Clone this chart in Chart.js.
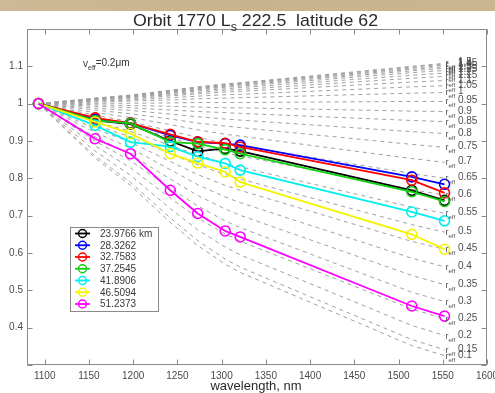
<!DOCTYPE html>
<html>
<head>
<meta charset="utf-8">
<script src="https://cdn.jsdelivr.net/npm/chart.js@4/dist/chart.umd.min.js"></script>
<style>
  html, body { margin: 0; padding: 0; background: #fff; }
  #wrap { position: relative; width: 495px; height: 393px; }
  canvas { display: block; }
</style>
</head>
<body>
<div id="wrap"><canvas id="c" width="495" height="393"></canvas></div>
<script>
// Wavelengths of the retrieval channels (nm)
const WAVELENGTHS = [1093, 1157, 1197, 1242, 1273, 1304, 1321, 1515, 1552];

// Legend labels: tangent altitude of each profile
const ALTITUDES = ['23.9766 km', '28.3262', '32.7583', '37.2545', '41.8906', '46.5094', '51.2373'];

// Normalised extinction at each wavelength, one array per altitude
const RATIO_23_98 = [1.000, 0.955, 0.945, 0.900, 0.872, 0.880, 0.873, 0.768, 0.741];
const RATIO_28_33 = [1.000, 0.958, 0.948, 0.915, 0.897, 0.893, 0.889, 0.804, 0.784];
const RATIO_32_76 = [1.000, 0.962, 0.948, 0.918, 0.898, 0.894, 0.884, 0.795, 0.761];
const RATIO_37_25 = [1.000, 0.955, 0.947, 0.897, 0.893, 0.877, 0.866, 0.764, 0.738];
const RATIO_41_89 = [1.000, 0.942, 0.897, 0.885, 0.858, 0.840, 0.822, 0.710, 0.686];
const RATIO_46_51 = [1.000, 0.951, 0.920, 0.866, 0.841, 0.817, 0.790, 0.650, 0.610];
const RATIO_51_24 = [1.000, 0.906, 0.866, 0.768, 0.706, 0.659, 0.643, 0.458, 0.431];

// Model curves for effective radius r_eff (um), v_eff = 0.2
const REFF = [0.1, 0.15, 0.2, 0.25, 0.3, 0.35, 0.4, 0.45, 0.5, 0.55, 0.6, 0.65, 0.7, 0.75,
              0.8, 0.85, 0.9, 0.95, 1, 1.05, 1.1, 1.15, 1.2, 1.25, 1.3, 1.35, 1.4, 1.45, 1.5];
const MODEL_CURVES = [
  [1, 0.854, 0.781, 0.682, 0.620, 0.570, 0.548, 0.352, 0.325],
  [1, 0.860, 0.789, 0.694, 0.633, 0.584, 0.562, 0.368, 0.341],
  [1, 0.873, 0.808, 0.719, 0.662, 0.616, 0.595, 0.406, 0.379],
  [1, 0.887, 0.828, 0.747, 0.694, 0.651, 0.632, 0.450, 0.424],
  [1, 0.900, 0.847, 0.774, 0.726, 0.686, 0.668, 0.495, 0.470],
  [1, 0.911, 0.864, 0.798, 0.754, 0.718, 0.701, 0.540, 0.515],
  [1, 0.923, 0.881, 0.823, 0.783, 0.750, 0.735, 0.586, 0.563],
  [1, 0.933, 0.897, 0.845, 0.810, 0.781, 0.768, 0.631, 0.610],
  [1, 0.943, 0.911, 0.866, 0.836, 0.810, 0.798, 0.676, 0.656],
  [1, 0.952, 0.926, 0.888, 0.863, 0.840, 0.830, 0.723, 0.706],
  [1, 0.961, 0.940, 0.909, 0.887, 0.869, 0.860, 0.770, 0.755],
  [1, 0.969, 0.952, 0.927, 0.910, 0.894, 0.887, 0.813, 0.800],
  [1, 0.976, 0.963, 0.944, 0.930, 0.918, 0.913, 0.853, 0.843],
  [1, 0.983, 0.973, 0.959, 0.948, 0.940, 0.936, 0.891, 0.883],
  [1, 0.988, 0.982, 0.972, 0.965, 0.959, 0.956, 0.925, 0.920],
  [1, 0.993, 0.989, 0.983, 0.979, 0.976, 0.974, 0.955, 0.952],
  [1, 0.997, 0.995, 0.993, 0.991, 0.989, 0.989, 0.980, 0.979],
  [1, 1.001, 1.001, 1.002, 1.003, 1.003, 1.003, 1.006, 1.006],
  [1, 1.004, 1.007, 1.010, 1.013, 1.015, 1.016, 1.028, 1.030],
  [1, 1.007, 1.010, 1.016, 1.020, 1.024, 1.025, 1.045, 1.048],
  [1, 1.008, 1.013, 1.021, 1.026, 1.031, 1.033, 1.058, 1.062],
  [1, 1.010, 1.016, 1.024, 1.030, 1.036, 1.038, 1.068, 1.073],
  [1, 1.011, 1.017, 1.027, 1.034, 1.040, 1.043, 1.076, 1.082],
  [1, 1.012, 1.019, 1.029, 1.037, 1.044, 1.047, 1.083, 1.089],
  [1, 1.013, 1.020, 1.031, 1.039, 1.046, 1.050, 1.088, 1.095],
  [1, 1.013, 1.021, 1.033, 1.041, 1.048, 1.052, 1.092, 1.099],
  [1, 1.014, 1.022, 1.034, 1.042, 1.050, 1.054, 1.095, 1.103],
  [1, 1.014, 1.022, 1.035, 1.044, 1.052, 1.055, 1.098, 1.106],
  [1, 1.015, 1.023, 1.036, 1.045, 1.053, 1.056, 1.100, 1.108]
];

// Axis ticks
const X_TICKS = [1100, 1150, 1200, 1250, 1300, 1350, 1400, 1450, 1500, 1550, 1600];
const Y_TICKS = [0.3, 0.4, 0.5, 0.6, 0.7, 0.8, 0.9, 1.0, 1.1, 1.2];

const SERIES = [RATIO_23_98, RATIO_28_33, RATIO_32_76, RATIO_37_25, RATIO_41_89, RATIO_46_51, RATIO_51_24];
const COLORS = ['#000000', '#0000ff', '#ff0000', '#10d010', '#00f0f0', '#f4f400', '#ff00ff'];
const FONT = '"Liberation Sans", Arial, Helvetica, sans-serif';

const toPoints = vals => vals.map((v, i) => ({ x: WAVELENGTHS[i], y: v }));

const datasets = [];
SERIES.forEach((vals, i) => {
  datasets.push({
    label: ALTITUDES[i],
    data: toPoints(vals),
    borderColor: COLORS[i],
    borderWidth: 1.8,
    pointRadius: 5,
    pointBorderWidth: 1.6,
    pointBorderColor: COLORS[i],
    pointBackgroundColor: 'rgba(0,0,0,0)',
    pointStyle: 'circle',
    tension: 0,
    order: SERIES.length - i   // later altitudes drawn on top
  });
});
MODEL_CURVES.forEach((vals, i) => {
  datasets.push({
    label: 'r_eff ' + REFF[i],
    data: toPoints(vals),
    borderColor: '#a0a0a0',
    borderWidth: 1,
    borderDash: [4, 4],
    pointRadius: 0,
    tension: 0,
    order: 100
  });
});

// White page with a tan strip along the top edge
const backdrop = {
  id: 'backdrop',
  beforeDraw(chart) {
    const ctx = chart.ctx;
    ctx.save();
    ctx.fillStyle = '#ffffff';
    ctx.fillRect(0, 0, chart.width, chart.height);
    const g = ctx.createLinearGradient(0, 0, chart.width, 0);
    g.addColorStop(0, '#cdb995');
    g.addColorStop(0.5, '#c8b38c');
    g.addColorStop(1, '#cbb690');
    ctx.fillStyle = g;
    ctx.fillRect(0, 0, chart.width, 11);
    ctx.restore();
  }
};

// Draws text with a subscript part: parts = [[text, size, dy], ...]; sx stretches horizontally
function drawParts(ctx, parts, x, y, color, sx = 1) {
  ctx.save();
  ctx.translate(x, y);
  ctx.scale(sx, 1);
  ctx.fillStyle = color;
  ctx.textBaseline = 'alphabetic';
  ctx.textAlign = 'left';
  let cx = 0;
  parts.forEach(([t, size, dy]) => {
    ctx.font = size + 'px ' + FONT;
    ctx.fillText(t, cx, dy);
    cx += ctx.measureText(t).width;
  });
  ctx.restore();
}
function partsWidth(ctx, parts) {
  let w = 0;
  ctx.save();
  parts.forEach(([t, size]) => { ctx.font = size + 'px ' + FONT; w += ctx.measureText(t).width; });
  ctx.restore();
  return w;
}

// Model-curve labels, box with inward ticks, annotations, title and legend
const decorations = {
  id: 'decorations',
  afterDatasetsDraw(chart) {
    const ctx = chart.ctx;
    const xs = chart.scales.x, ys = chart.scales.y;
    // r_eff labels at the end of every model curve
    MODEL_CURVES.forEach((vals, i) => {
      const px = xs.getPixelForValue(WAVELENGTHS[WAVELENGTHS.length - 1]);
      const py = ys.getPixelForValue(vals[vals.length - 1]);
      drawParts(ctx, [['r', 9, 0], ['eff', 6, 3], [' ' + String(REFF[i]), 10, -1]], px + 1, py + 3, '#505050');
    });
  },
  afterDraw(chart) {
    const ctx = chart.ctx;
    const a = chart.chartArea;
    const xs = chart.scales.x, ys = chart.scales.y;
    ctx.save();

    // axes box
    ctx.strokeStyle = '#8a8a8a';
    ctx.lineWidth = 1;
    const L = Math.round(a.left) + 0.5, R = Math.round(a.right) - 0.5;
    const T = Math.round(a.top) + 0.5, B = Math.round(a.bottom) - 0.5;
    ctx.strokeRect(L, T, R - L, B - T);
    ctx.beginPath();
    X_TICKS.forEach(t => {
      const px = Math.round(xs.getPixelForValue(t)) + 0.5;
      ctx.moveTo(px, B); ctx.lineTo(px, B - 5);
      ctx.moveTo(px, T); ctx.lineTo(px, T + 5);
    });
    Y_TICKS.forEach(t => {
      const py = Math.round(ys.getPixelForValue(t)) + 0.5;
      ctx.moveTo(L, py); ctx.lineTo(L + 5, py);
      ctx.moveTo(R, py); ctx.lineTo(R - 5, py);
    });
    ctx.stroke();

    // size-distribution note
    drawParts(ctx, [['v', 10, 0], ['eff', 7, 3], ['=0.2\u03bcm', 10, -1]], 83, 67, '#333');

    // title, fitted to the printed width
    const title = [['Orbit 1770 L', 17, 0], ['s', 12, 5], [' 222.5  latitude 62', 17, 0]];
    const tw = partsWidth(ctx, title);
    const sx = 245 / tw;
    drawParts(ctx, title, 255.5 - 245 / 2, 26, '#2a2a2a', sx);

    // x-axis title
    ctx.font = '13px ' + FONT;
    ctx.fillStyle = '#2a2a2a';
    ctx.textAlign = 'center';
    ctx.textBaseline = 'alphabetic';
    ctx.fillText('wavelength, nm', 256, 390);

    // legend
    const bx = 70.5, by = 227.5, bw = 88, bh = 84;
    ctx.fillStyle = '#fff';
    ctx.fillRect(bx, by, bw, bh);
    ctx.strokeStyle = '#8a8a8a';
    ctx.lineWidth = 1;
    ctx.strokeRect(bx, by, bw, bh);
    chart.data.datasets.slice(0, SERIES.length).forEach((ds, i) => {
      const y = 233.5 + i * 11.75;
      ctx.strokeStyle = ds.borderColor;
      ctx.lineWidth = 1.8;
      ctx.beginPath();
      ctx.moveTo(75, y); ctx.lineTo(90, y);
      ctx.stroke();
      ctx.lineWidth = 1.5;
      ctx.beginPath();
      ctx.arc(82.5, y, 4, 0, Math.PI * 2);
      ctx.stroke();
      ctx.fillStyle = '#3a3a3a';
      ctx.font = '10px ' + FONT;
      ctx.textAlign = 'left';
      ctx.textBaseline = 'middle';
      ctx.fillText(ds.label, 100, y + 0.5);
    });
    ctx.restore();
  }
};

new Chart(document.getElementById('c'), {
  type: 'line',
  data: { datasets },
  plugins: [backdrop, decorations],
  options: {
    responsive: false,
    animation: false,
    devicePixelRatio: 1,
    layout: { padding: { left: 0, top: 29, right: 8, bottom: 0 } },
    plugins: { legend: { display: false }, tooltip: { enabled: false }, title: { display: false } },
    scales: {
      x: {
        type: 'linear',
        min: 1080,
        max: 1600,
        grid: { display: false, drawTicks: false },
        border: { display: false },
        afterBuildTicks: s => { s.ticks = X_TICKS.map(v => ({ value: v })); },
        ticks: {
          autoSkip: false,
          maxRotation: 0,
          padding: 5,
          color: '#4a4a4a',
          font: { family: FONT, size: 10 },
          callback: v => String(v)
        },
        afterFit: s => { s.height = 28; s.paddingLeft = 0; s.paddingRight = 0; }
      },
      y: {
        type: 'linear',
        min: 0.3,
        max: 1.2,
        grid: { display: false, drawTicks: false },
        border: { display: false },
        afterBuildTicks: s => { s.ticks = Y_TICKS.map(v => ({ value: v })); },
        ticks: {
          autoSkip: false,
          padding: 4,
          color: '#4a4a4a',
          font: { family: FONT, size: 10 },
          callback: v => {
            const r = Math.round(v * 10) / 10;
            return (r <= 0.3 || r >= 1.2) ? '' : String(r);
          }
        },
        afterFit: s => { s.width = 27; s.paddingTop = 0; s.paddingBottom = 0; }
      }
    }
  }
});
</script>
</body>
</html>
